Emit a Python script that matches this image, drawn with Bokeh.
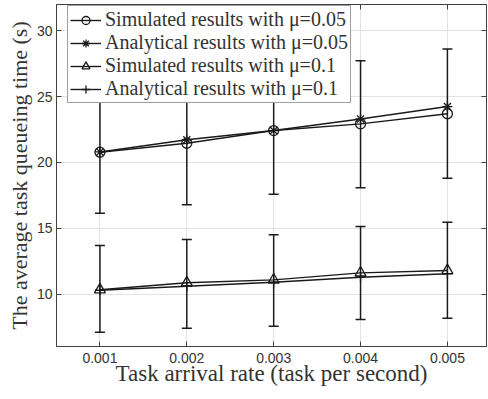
from bokeh.plotting import figure
from bokeh.models import (ColumnDataSource, Whisker, TeeHead, Legend, LegendItem,
                          LinearAxis, FixedTicker, Range1d)
from bokeh.embed import file_html
from bokeh.resources import INLINE

# ---- data ----
x = [0.001, 0.002, 0.003, 0.004, 0.005]
x_tick_labels = ["0.001", "0.002", "0.003", "0.004", "0.005"]
y_ticks = [10, 15, 20, 25, 30]

sim_mu005 = [20.78, 21.46, 22.42, 22.93, 23.69]
ana_mu005 = [20.80, 21.72, 22.42, 23.30, 24.24]
sim_mu01 = [10.36, 10.89, 11.11, 11.64, 11.82]
ana_mu01 = [10.32, 10.63, 10.93, 11.31, 11.57]

sim005_lo = [16.16, 16.80, 17.60, 18.08, 18.81]
sim005_hi = [25.40, 26.12, 27.24, 27.70, 28.60]
sim01_lo = [7.14, 7.45, 7.60, 8.10, 8.20]
sim01_hi = [13.71, 14.17, 14.52, 15.15, 15.48]

labels = ["Simulated results with \u03bc=0.05",
          "Analytical results with \u03bc=0.05",
          "Simulated results with \u03bc=0.1",
          "Analytical results with \u03bc=0.1"]

INK = "#1a1a1a"
AX = "#404040"
TXT = "#333333"
SERIF = "Liberation Serif"
SANS = "Liberation Sans"

p = figure(width=488, height=399, output_backend="svg", toolbar_location=None,
           x_range=Range1d(0.0005, 0.00545), y_range=Range1d(6.06, 31.97),
           min_border_left=56, min_border_right=2, min_border_top=4,
           min_border_bottom=53)
p.outline_line_color = AX
p.background_fill_color = "white"

# grid
for g in (p.xgrid, p.ygrid):
    g.grid_line_color = "#e3e3e3"
    g.grid_line_width = 1
p.xaxis.ticker = FixedTicker(ticks=x)
p.yaxis.ticker = FixedTicker(ticks=y_ticks)
p.xaxis.major_label_overrides = {v: s for v, s in zip(x, x_tick_labels)}

for ax in (p.xaxis[0], p.yaxis[0]):
    ax.axis_line_color = AX
    ax.major_tick_line_color = AX
    ax.major_tick_in = 5
    ax.major_tick_out = 0
    ax.minor_tick_line_color = None
    ax.major_label_text_font = SANS
    ax.major_label_text_font_size = "14px"
    ax.major_label_text_color = TXT
    ax.axis_label_text_font = SERIF
    ax.axis_label_text_font_style = "normal"
    ax.axis_label_text_color = TXT

p.xaxis.axis_label = "Task arrival rate (task per second)"
p.yaxis.axis_label = "The average task queueing time (s)"
p.xaxis.axis_label_text_font_size = "23px"
p.yaxis.axis_label_text_font_size = "22px"
p.xaxis.major_label_standoff = 6
p.xaxis.axis_label_standoff = -5
p.yaxis.major_label_standoff = 4
p.yaxis.axis_label_standoff = 2

# box ticks on right and top (minor ticks only, so no labels are drawn)
for loc, tick in (("right", y_ticks), ("above", x)):
    a = LinearAxis(ticker=FixedTicker(ticks=[], minor_ticks=tick),
                   major_label_standoff=0, major_tick_in=0, major_tick_out=0,
                   minor_tick_in=5, minor_tick_out=0,
                   minor_tick_line_color=AX, axis_line_color=AX,
                   major_tick_line_color=None)
    p.add_layout(a, loc)

src = ColumnDataSource(dict(x=x, s005=sim_mu005, a005=ana_mu005, s01=sim_mu01,
                            a01=ana_mu01, lo1=sim005_lo, hi1=sim005_hi,
                            lo2=sim01_lo, hi2=sim01_hi))

# error bars
for lo, hi in (("lo1", "hi1"), ("lo2", "hi2")):
    w = Whisker(source=src, base="x", lower=lo, upper=hi, line_color=INK,
                line_width=1.5,
                upper_head=TeeHead(size=10, line_color=INK, line_width=1.5),
                lower_head=TeeHead(size=10, line_color=INK, line_width=1.5))
    p.add_layout(w)

items = []
specs = [("s005", "circle"), ("a005", "asterisk"), ("s01", "triangle"), ("a01", "cross")]
for (col, mk), lab in zip(specs, labels):
    lr = p.line("x", col, source=src, line_color=INK, line_width=1.4)
    mr = p.scatter("x", col, source=src, marker=mk, size=10 if mk != "triangle" else 11,
                   line_color=INK, fill_color=None, line_width=1.3)
    items.append(LegendItem(label=lab, renderers=[lr, mr]))

legend = Legend(items=items, location=(11, 243), label_text_font=SERIF,
                label_text_font_size="20px", label_text_color=TXT,
                glyph_width=31, glyph_height=20, label_height=20,
                label_standoff=4, padding=2, spacing=-2, margin=0,
                border_line_color=AX, border_line_width=1,
                background_fill_color="white", background_fill_alpha=1.0)
p.add_layout(legend, "center")

open("out.html", "w").write(file_html(p, INLINE))
